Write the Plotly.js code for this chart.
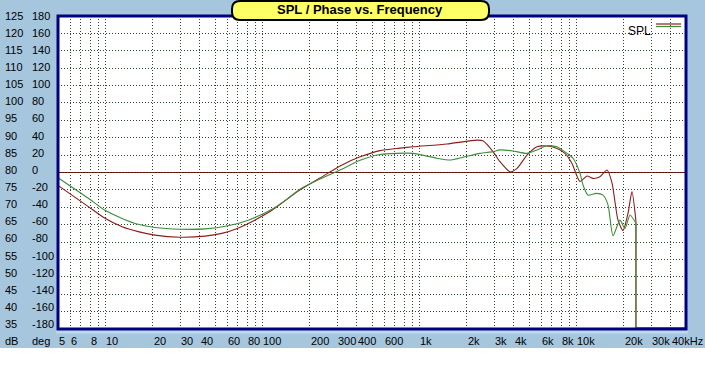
<!DOCTYPE html>
<html>
<head>
<meta charset="utf-8">
<script src="https://cdn.plot.ly/plotly-3.0.1.min.js"></script>
<style>
html,body{margin:0;padding:0;background:#ffffff;}
#chart{width:705px;height:348px;}
</style>
</head>
<body>
<div id="chart"></div>
<script>
// ---- data ----
const freqRed = [5, 7.8, 9.9, 12.8, 16.2, 20.7, 29.9, 43.2, 55.2, 70, 89.5, 116, 145, 174, 233, 313, 420, 562, 753, 912, 1500, 2330, 2545, 2950, 3266, 3784, 4196, 4855, 5624, 6514, 7540, 8478, 9395, 10560, 11700, 12790, 14160, 15700, 16890, 18440, 19850, 21370, 22640, 24000];
const splRed  = [76.3, 70.2, 66.9, 64.4, 63.0, 62.0, 61.4, 61.7, 62.5, 64.0, 66.3, 69.2, 72.4, 75.0, 78.4, 81.9, 84.5, 86.3, 87.0, 87.4, 88.2, 89.3, 89.1, 86.0, 83.1, 80.2, 81.2, 85.0, 87.4, 87.6, 86.9, 85.5, 82.6, 77.4, 79.0, 78.3, 78.8, 80.7, 77.0, 66.3, 63.3, 68.3, 74.5, 66.0];

const freqGreen = [5, 7.8, 9.9, 12.8, 16.2, 20.7, 29.9, 43.2, 60.5, 81.5, 116, 145, 174, 233, 313, 420, 562, 912, 1297, 1570, 1900, 2436, 2950, 3266, 3954, 4855, 5624, 6514, 7540, 8735, 9535, 10560, 11040, 11870, 13380, 14820, 15930, 17140, 18980, 20440, 22000, 24000];
const splGreen  = [78.5, 72.6, 69.2, 66.8, 65.1, 64.2, 63.7, 63.8, 64.7, 66.3, 69.5, 72.5, 75.2, 78.1, 80.7, 83.5, 85.2, 85.5, 84.1, 83.6, 84.4, 85.5, 86.0, 86.5, 86.2, 85.5, 86.5, 87.7, 87.4, 85.5, 84.1, 79.8, 76.4, 73.5, 74.0, 73.5, 70.7, 61.8, 66.3, 63.9, 67.8, 65.4];

// data stops at 24 kHz and falls to the floor
const tailFreq = [24000, 24000, 50000];
const tailRed = [66.0, 35.3, 35.3];
const tailGreen = [65.4, 35.3, 35.3];

const dbTicks  = [125, 120, 115, 110, 105, 100, 95, 90, 85, 80, 75, 70, 65, 60, 55, 50, 45, 40, 35];
const degTicks = [180, 160, 140, 120, 100, 80, 60, 40, 20, 0, -20, -40, -60, -80, -100, -120, -140, -160, -180];

const xTickVals = [5, 6, 8, 10, 20, 30, 40, 60, 80, 100, 200, 300, 400, 600, 1000, 2000, 3000, 4000, 6000, 8000, 10000, 20000, 30000, 40000];
const xTickText = ['5', '6', '8', '10', '20', '30', '40', '60', '80', '100', '200', '300', '400', '600', '1k', '2k', '3k', '4k', '6k', '8k', '10k', '20k', '30k', '40kHz'];

// ---- geometry helpers (pixel -> paper) ----
const L = 58, R = 686, T = 16, B = 329;
const px = x => (x - L) / (R - L);
const py = y => (B - y) / (B - T);

// grid at 1..9 x decades
const gridVals = [];
[1, 10, 100, 1000, 10000].forEach(d => {
  for (let m = 1; m <= 9; m++) {
    const v = m * d;
    if (v >= 5 && v <= 40000) gridVals.push(v);
  }
});

const redC = '#8e1c1c';
const greenC = '#3a8f3a';
const font = {family: 'Liberation Sans, Arial, sans-serif', size: 11, color: '#000000'};

const traces = [
  {x: freqRed, y: splRed, type: 'scatter', mode: 'lines', line: {color: redC, width: 1.1, shape: 'spline', smoothing: 0.6}, showlegend: false, hoverinfo: 'skip'},
  {x: tailFreq, y: tailRed, type: 'scatter', mode: 'lines', line: {color: redC, width: 1.1}, showlegend: false, hoverinfo: 'skip'},
  {x: freqGreen, y: splGreen, type: 'scatter', mode: 'lines', line: {color: greenC, width: 1.1, shape: 'spline', smoothing: 0.6}, showlegend: false, hoverinfo: 'skip'},
  {x: tailFreq, y: tailGreen, type: 'scatter', mode: 'lines', line: {color: greenC, width: 1.1}, showlegend: false, hoverinfo: 'skip'}
];

const annotations = [];
// y labels (two columns)
dbTicks.forEach((v, i) => {
  const yp = py(15.7 + i * 17.13);
  annotations.push({xref: 'paper', yref: 'paper', x: px(3), y: yp, xanchor: 'left', yanchor: 'middle', text: String(v), showarrow: false, font: font});
  annotations.push({xref: 'paper', yref: 'paper', x: px(30), y: yp, xanchor: 'left', yanchor: 'middle', text: String(degTicks[i]), showarrow: false, font: font});
});
// x labels
xTickVals.forEach((v, i) => {
  annotations.push({xref: 'x', yref: 'paper', x: Math.log10(v), y: py(341), xanchor: 'left', yanchor: 'middle', xshift: -1, text: xTickText[i], showarrow: false, font: font});
});
annotations.push({xref: 'paper', yref: 'paper', x: px(3), y: py(341), xanchor: 'left', yanchor: 'middle', text: 'dB', showarrow: false, font: font});
annotations.push({xref: 'paper', yref: 'paper', x: px(30), y: py(341), xanchor: 'left', yanchor: 'middle', text: 'deg', showarrow: false, font: font});
// legend label
annotations.push({xref: 'paper', yref: 'paper', x: px(653), y: py(31), xanchor: 'right', yanchor: 'middle', text: 'SPL', showarrow: false, font: {family: font.family, size: 12, color: '#000'}});
// title
annotations.push({xref: 'paper', yref: 'paper', x: px(360), y: py(10), xanchor: 'center', yanchor: 'middle', text: '<b>SPL / Phase vs. Frequency</b>', showarrow: false, font: {family: font.family, size: 13, color: '#000'}});

// rounded title box
const bx0 = 232, bx1 = 489, by0 = 1, by1 = 20, r = 8;
const P = (x, y) => px(x) + ',' + py(y);
const titlePath = 'M' + P(bx0 + r, by0) + ' L' + P(bx1 - r, by0) + ' Q' + P(bx1, by0) + ' ' + P(bx1, by0 + r) +
  ' L' + P(bx1, by1 - r) + ' Q' + P(bx1, by1) + ' ' + P(bx1 - r, by1) +
  ' L' + P(bx0 + r, by1) + ' Q' + P(bx0, by1) + ' ' + P(bx0, by1 - r) +
  ' L' + P(bx0, by0 + r) + ' Q' + P(bx0, by0) + ' ' + P(bx0 + r, by0) + ' Z';

const shapes = [
  // 80 dB / 0 deg reference line
  {type: 'line', xref: 'paper', yref: 'y', x0: 0, x1: 1, y0: 80, y1: 80, line: {color: '#800000', width: 1}, layer: 'between'},
  // light strip under frame
  {type: 'rect', xref: 'paper', yref: 'paper', x0: px(56), x1: px(688), y0: py(333.5), y1: py(330), fillcolor: '#bcd8ee', line: {width: 0}, layer: 'above'},
  // frame
  {type: 'rect', xref: 'paper', yref: 'paper', x0: 0, x1: 1, y0: 0, y1: 1, line: {color: '#000080', width: 3}, layer: 'above'},
  // legend lines
  {type: 'line', xref: 'paper', yref: 'paper', x0: px(656), x1: px(681), y0: py(24), y1: py(24), line: {color: redC, width: 1.2}, layer: 'above'},
  {type: 'line', xref: 'paper', yref: 'paper', x0: px(656), x1: px(681), y0: py(26.5), y1: py(26.5), line: {color: greenC, width: 1.2}, layer: 'above'},
  // title box
  {type: 'path', xref: 'paper', yref: 'paper', path: titlePath, fillcolor: '#ffff66', line: {color: '#000000', width: 2}, layer: 'above'}
];

const layout = {
  width: 705, height: 348,
  margin: {l: L, r: 705 - R, t: T, b: 348 - B, pad: 0},
  paper_bgcolor: '#a6c6de',
  plot_bgcolor: '#ffffff',
  showlegend: false,
  xaxis: {
    type: 'log', range: [Math.log10(5), Math.log10(50000)],
    tickmode: 'array', tickvals: gridVals, showticklabels: false, ticks: '',
    showgrid: true, gridcolor: '#2f4a2f', gridwidth: 1, griddash: '1px,2px',
    zeroline: false, showline: false, fixedrange: true
  },
  yaxis: {
    range: [35, 125], tick0: 35, dtick: 5, showticklabels: false, ticks: '',
    showgrid: true, gridcolor: '#2f4a2f', gridwidth: 1, griddash: '1px,2px',
    zeroline: false, showline: false, fixedrange: true
  },
  annotations: annotations,
  shapes: shapes
};

Plotly.newPlot('chart', traces, layout, {displayModeBar: false, staticPlot: true});
</script>
</body>
</html>
